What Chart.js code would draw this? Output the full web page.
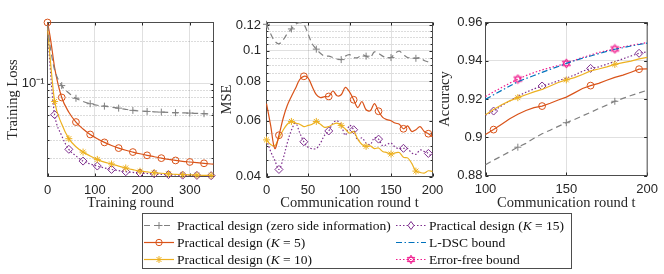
<!DOCTYPE html>
<html>
<head>
<meta charset="utf-8">
<script src="https://cdn.jsdelivr.net/npm/chart.js@4.4.1/dist/chart.umd.min.js"></script>
<style>
html, body { margin: 0; padding: 0; background: #fff; }
#wrap { position: relative; width: 664px; height: 274px; overflow: hidden; }
#wrap canvas { position: absolute; top: 0; }
#legend { position: absolute; left: 141.5px; top: 213px; width: 430px; height: 56px; border: 1px solid #4d4d4d;
  box-sizing: border-box; font-family: "Liberation Serif", serif; font-size: 13.5px; color: #111; }
.item { position: absolute; height: 17px; line-height: 17px; white-space: nowrap; }
.item svg { position: absolute; left: 0; top: 3px; }
.item span { position: absolute; left: 34px; top: 0; }
</style>
</head>
<body>
<div id="wrap">
  <canvas id="loss" width="240" height="215" style="left:0px"></canvas>
  <canvas id="mse" width="245" height="215" style="left:215px"></canvas>
  <canvas id="acc" width="229" height="215" style="left:435px"></canvas>
  <div id="legend"></div>
</div>
<script>
// ---- training loss (left panel) ----
const lossRounds = [0, 5, 10, 15, 30, 45, 60, 75, 90, 105, 120, 135, 150, 165, 180, 195, 210, 225, 240, 255, 270, 285, 300, 315, 330, 345, 350];
const lossZeroSI = [0.26, 0.19, 0.15, 0.125, 0.097, 0.086, 0.079, 0.075, 0.0723, 0.0705, 0.0695, 0.0683, 0.0673, 0.066, 0.0649, 0.0643, 0.0638, 0.0634, 0.0631, 0.0628, 0.0625, 0.0623, 0.0621, 0.0618, 0.0615, 0.0613, 0.0612];
const lossK5 = [0.27, 0.22, 0.17, 0.13, 0.08, 0.063, 0.0537, 0.048, 0.0439, 0.041, 0.0386, 0.0367, 0.0352, 0.034, 0.033, 0.0321, 0.0313, 0.0306, 0.0299, 0.0293, 0.0288, 0.0284, 0.0281, 0.0278, 0.0275, 0.0272, 0.0271];
const lossK10 = [0.25, 0.16, 0.105, 0.075, 0.052, 0.041, 0.036, 0.033, 0.031, 0.0293, 0.028, 0.0272, 0.0263, 0.0255, 0.0248, 0.0242, 0.0239, 0.0236, 0.0234, 0.0232, 0.023, 0.0229, 0.0228, 0.0227, 0.0226, 0.0226, 0.0225];
const lossK15 = [0.24, 0.14, 0.085, 0.0605, 0.043, 0.0345, 0.031, 0.0285, 0.0272, 0.0263, 0.0255, 0.0249, 0.0244, 0.024, 0.0237, 0.0235, 0.0233, 0.0232, 0.023, 0.0229, 0.0228, 0.0227, 0.0226, 0.0226, 0.0225, 0.0225, 0.0224];
const lossMarksA = [0, 30, 60, 90, 120, 150, 180, 210, 240, 270, 300, 330];
const lossMarksB = [15, 45, 75, 105, 135, 165, 195, 225, 255, 285, 315, 345];

// ---- MSE (middle panel) ----
const commRounds = [0, 5, 10, 15, 20, 25, 30, 35, 40, 45, 50, 55, 60, 65, 70, 75, 80, 85, 90, 95, 100, 105, 110, 115, 120, 125, 130, 135, 140, 145, 150, 155, 160, 165, 170, 175, 180, 185, 190, 195, 200];
const mseZeroSI = [0.121, 0.113, 0.107, 0.105, 0.108, 0.113, 0.117, 0.121, 0.1225, 0.121, 0.113, 0.105, 0.101, 0.098, 0.096, 0.096, 0.095, 0.094, 0.0936, 0.096, 0.097, 0.095, 0.095, 0.097, 0.096, 0.095, 0.099, 0.098, 0.096, 0.095, 0.095, 0.098, 0.0995, 0.097, 0.095, 0.095, 0.0945, 0.095, 0.093, 0.092, 0.091];
const mseK5 = [0.068, 0.058, 0.049, 0.054, 0.061, 0.067, 0.0716, 0.076, 0.081, 0.0829, 0.082, 0.077, 0.0725, 0.071, 0.0715, 0.0716, 0.0745, 0.072, 0.0725, 0.0765, 0.074, 0.0699, 0.066, 0.069, 0.065, 0.0645, 0.068, 0.0643, 0.0615, 0.0605, 0.06, 0.059, 0.0585, 0.0566, 0.0578, 0.0555, 0.0562, 0.0575, 0.0555, 0.0546, 0.0534];
const mseK10 = [0.0522, 0.0505, 0.05, 0.053, 0.056, 0.0585, 0.0597, 0.059, 0.0585, 0.0575, 0.058, 0.0585, 0.0597, 0.0585, 0.0572, 0.0575, 0.0585, 0.059, 0.058, 0.0565, 0.0548, 0.0555, 0.0525, 0.0505, 0.0498, 0.05, 0.049, 0.0492, 0.048, 0.0476, 0.0471, 0.0475, 0.0476, 0.046, 0.0458, 0.044, 0.0416, 0.0412, 0.041, 0.0417, 0.0415];
const mseK15 = [0.0522, 0.048, 0.045, 0.0421, 0.0455, 0.051, 0.056, 0.059, 0.055, 0.0515, 0.0495, 0.049, 0.049, 0.051, 0.054, 0.0557, 0.059, 0.06, 0.058, 0.054, 0.058, 0.0562, 0.052, 0.053, 0.051, 0.0505, 0.053, 0.0525, 0.05, 0.0505, 0.051, 0.0495, 0.049, 0.0491, 0.049, 0.0475, 0.047, 0.0485, 0.048, 0.0473, 0.046];
const mseMarksA = [0, 30, 60, 90, 120, 150, 180];
const mseMarksB = [15, 45, 75, 105, 135, 165, 195];

// ---- accuracy (right panel) ----
const accRounds = [100, 105, 110, 115, 120, 125, 130, 135, 140, 145, 150, 155, 160, 165, 170, 175, 180, 185, 190, 195, 200];
const accZeroSI = [0.8856, 0.888, 0.8902, 0.8925, 0.8948, 0.8968, 0.8995, 0.9018, 0.9037, 0.9057, 0.9076, 0.9093, 0.9112, 0.913, 0.915, 0.9168, 0.9188, 0.9203, 0.9218, 0.9232, 0.9246];
const accK5 = [0.9014, 0.904, 0.9068, 0.9097, 0.912, 0.914, 0.9155, 0.9163, 0.9178, 0.9195, 0.921, 0.9232, 0.9255, 0.927, 0.9282, 0.9298, 0.9313, 0.9325, 0.934, 0.9356, 0.9358];
const accK10 = [0.9118, 0.9145, 0.917, 0.919, 0.9207, 0.9222, 0.9237, 0.925, 0.9268, 0.9286, 0.93, 0.9312, 0.9328, 0.9347, 0.9357, 0.9368, 0.9381, 0.939, 0.9398, 0.941, 0.9418];
const accK15 = [0.9115, 0.9137, 0.9165, 0.919, 0.9215, 0.9235, 0.9253, 0.9268, 0.928, 0.9295, 0.931, 0.9325, 0.9345, 0.936, 0.9368, 0.9382, 0.9396, 0.941, 0.9425, 0.9439, 0.9447];
const accLDSC = [0.9198, 0.9222, 0.9245, 0.9268, 0.929, 0.9307, 0.9323, 0.9339, 0.9355, 0.937, 0.9386, 0.94, 0.9413, 0.9425, 0.9437, 0.9449, 0.946, 0.9468, 0.9477, 0.9485, 0.9492];
const accErrFree = [0.9213, 0.9237, 0.926, 0.9283, 0.9304, 0.9322, 0.9338, 0.9352, 0.9364, 0.9375, 0.9386, 0.9402, 0.9417, 0.943, 0.9443, 0.9453, 0.9462, 0.9472, 0.948, 0.9488, 0.9495];
const accMarksA = [120, 150, 180];
const accMarksB = [105, 135, 165, 195];

const legendLabels = ['Practical design (zero side information)', 'Practical design (<i>K</i> = 5)', 'Practical design (<i>K</i> = 10)',
  'Practical design (<i>K</i> = 15)', 'L-DSC bound', 'Error-free bound'];

const GRAY = '#808080', ORANGE = '#D95319', YELLOW = '#EDB120', PURPLE = '#7E2F8E', BLUE = '#0072BD', PINK = '#F0198C';
const TXT = '#262626';

// six-pointed star marker for the error-free bound
const hexagram = document.createElement('canvas');
hexagram.width = 11; hexagram.height = 11;
(function () {
  const g = hexagram.getContext('2d');
  g.strokeStyle = PINK; g.lineWidth = 1;
  [-90, 90].forEach(a0 => {
    g.beginPath();
    for (let k = 0; k < 3; k++) {
      const a = (a0 + k * 120) * Math.PI / 180;
      const px = 5.5 + 4.6 * Math.cos(a), py = 5.5 + 4.6 * Math.sin(a);
      k ? g.lineTo(px, py) : g.moveTo(px, py);
    }
    g.closePath(); g.stroke();
  });
})();

const STY = {
  zero: { color: GRAY, dash: [6, 4], point: 'cross', r: 3.5 },
  k5: { color: ORANGE, dash: [], point: 'circle', r: 3.4 },
  k10: { color: YELLOW, dash: [], point: 'star', r: 3.5 },
  k15: { color: PURPLE, dash: [1.5, 2], point: 'rectRot', r: 4 },
  ldsc: { color: BLUE, dash: [6, 2.5, 1.5, 2.5], point: 'circle', r: 0 },
  free: { color: PINK, dash: [1.5, 2], point: hexagram, r: 4 }
};

function series(xs, ys, marks, st, smooth) {
  return {
    data: xs.map((x, i) => ({ x: x, y: ys[i] })),
    borderColor: st.color,
    borderWidth: 1.2,
    borderDash: st.dash,
    pointStyle: st.point,
    pointBorderColor: st.color,
    pointBackgroundColor: 'rgba(0,0,0,0)',
    pointBorderWidth: 1,
    pointRadius: ctx => (marks.includes(xs[ctx.dataIndex]) ? st.r : 0),
    pointHoverRadius: 0,
    cubicInterpolationMode: smooth === 'mono' ? 'monotone' : 'default',
    tension: smooth === 'wave' ? 0.35 : 0,
    clip: false
  };
}

const framePlugin = {
  id: 'frame',
  beforeDatasetsDraw(chart, args, opts) {
    const { ctx, chartArea: a, scales: { x, y } } = chart;
    const seg = (x1, y1, x2, y2) => { ctx.beginPath(); ctx.moveTo(x1, y1); ctx.lineTo(x2, y2); ctx.stroke(); };
    ctx.save();
    ctx.lineWidth = 1;
    ctx.strokeStyle = 'rgba(0,0,0,0.28)';
    ctx.setLineDash([1, 2]);
    (opts.minorY || []).forEach(v => {
      const py = Math.round(y.getPixelForValue(v)) + 0.5;
      seg(a.left, py, a.right, py);
    });
    ctx.setLineDash([]);
    ctx.strokeStyle = TXT;
    x.ticks.forEach(t => {
      const px = Math.round(x.getPixelForValue(t.value)) + 0.5;
      seg(px, a.bottom, px, a.bottom - 3); seg(px, a.top, px, a.top + 3);
    });
    y.ticks.forEach(t => {
      const py = Math.round(y.getPixelForValue(t.value)) + 0.5;
      seg(a.left, py, a.left + 3, py); seg(a.right, py, a.right - 3, py);
    });
    (opts.minorY || []).forEach(v => {
      const py = Math.round(y.getPixelForValue(v)) + 0.5;
      seg(a.left, py, a.left + 2, py); seg(a.right, py, a.right - 2, py);
    });
    ctx.strokeStyle = '#4d4d4d';
    ctx.strokeRect(a.left, a.top, a.right - a.left, a.bottom - a.top);
    ctx.restore();
  }
};

function makeChart(id, datasets, o) {
  const tickFont = { family: 'Liberation Sans', size: 13 };
  const titleFont = { family: 'Liberation Serif', size: 14.5, lineHeight: 1.2 };
  return new Chart(document.getElementById(id).getContext('2d'), {
    type: 'line',
    data: { datasets: datasets },
    plugins: [framePlugin],
    options: {
      responsive: false, animation: false, events: [], devicePixelRatio: 1,
      layout: { padding: { left: 0, top: o.top, right: o.padRight, bottom: 0 } },
      plugins: { legend: { display: false }, tooltip: { enabled: false }, frame: { minorY: o.minorY } },
      scales: {
        x: {
          type: 'linear', min: o.xMin, max: o.xMax, bounds: 'data',
          afterBuildTicks: s => { s.ticks = o.xTicks.map(v => ({ value: v })); },
          afterFit: s => { s.height = o.xH; },
          grid: { color: 'rgba(0,0,0,0.12)', lineWidth: 1, drawTicks: false },
          border: { display: false },
          ticks: { padding: 6, color: TXT, font: tickFont, maxRotation: 0, autoSkip: false, callback: v => String(v) },
          title: { display: true, text: o.xTitle, color: TXT, font: titleFont, padding: { top: 0, bottom: 3.3 } }
        },
        y: {
          type: o.yType, min: o.yMin, max: o.yMax, bounds: 'data',
          afterBuildTicks: s => { s.ticks = o.yTicks.map(v => ({ value: v })); },
          afterFit: s => { s.width = o.yW; },
          grid: { color: 'rgba(0,0,0,0.12)', lineWidth: 1, drawTicks: false },
          border: { display: false },
          ticks: { padding: o.yPad, color: TXT, font: tickFont, autoSkip: false, callback: o.yFmt },
          title: { display: true, text: o.yTitle, color: TXT, font: titleFont, padding: { top: o.yTitlePad, bottom: 0 } }
        }
      }
    }
  });
}

const fmt = v => String(+Number(v).toFixed(2));

makeChart('loss', [
  series(lossRounds, lossZeroSI, lossMarksA.slice(1), STY.zero, 'mono'),
  series(lossRounds, lossK5, lossMarksA, STY.k5, 'mono'),
  series(lossRounds, lossK10, lossMarksB, STY.k10, 'mono'),
  series(lossRounds, lossK15, lossMarksB, STY.k15, 'mono')
], {
  top: 22.5, padRight: 26.5, xH: 38.5, yW: 47.5, yPad: 3, yTitlePad: 4.3,
  xMin: 0, xMax: 350, xTicks: [0, 100, 200, 300], xTitle: 'Training round',
  yType: 'logarithmic', yMin: 0.0222, yMax: 0.27, yTicks: [0.1], yTitle: 'Training Loss',
  yFmt: v => (Math.abs(v - 0.1) < 1e-9 ? '10\u207B\u00B9' : ''),
  minorY: [0.03, 0.04, 0.05, 0.06, 0.07, 0.08, 0.09, 0.2]
});

makeChart('mse', [
  series(commRounds, mseZeroSI, mseMarksA, STY.zero, 'wave'),
  series(commRounds, mseK5, mseMarksB, STY.k5, 'wave'),
  series(commRounds, mseK10, mseMarksA, STY.k10, 'wave'),
  series(commRounds, mseK15, mseMarksB, STY.k15, 'wave')
], {
  top: 22.5, padRight: 27.5, xH: 38.5, yW: 51.5, yPad: 5.5, yTitlePad: 3.3,
  xMin: 0, xMax: 200, xTicks: [0, 50, 100, 150, 200], xTitle: 'Communication round t',
  yType: 'logarithmic', yMin: 0.04, yMax: 0.1226, yTicks: [0.04, 0.06, 0.08, 0.1, 0.12], yTitle: 'MSE',
  yFmt: fmt,
  minorY: [0.045, 0.05, 0.055, 0.065, 0.07, 0.075, 0.085, 0.09, 0.095, 0.105, 0.11, 0.115]
});

makeChart('acc', [
  series(accRounds, accZeroSI, accMarksA, STY.zero),
  series(accRounds, accK5, accMarksB, STY.k5),
  series(accRounds, accK10, accMarksA, STY.k10),
  series(accRounds, accK15, accMarksB, STY.k15),
  series(accRounds, accLDSC, [], STY.ldsc),
  series(accRounds, accErrFree, accMarksA, STY.free)
], {
  top: 22.5, padRight: 13.5, xH: 39.5, yW: 50.5, yPad: 3, yTitlePad: 1.3,
  xMin: 100, xMax: 200, xTicks: [100, 150, 200], xTitle: 'Communication round t',
  yType: 'linear', yMin: 0.88, yMax: 0.96, yTicks: [0.88, 0.9, 0.92, 0.94, 0.96], yTitle: 'Accuracy',
  yFmt: fmt, minorY: []
});

// ---- legend (HTML) ----
function icon(st, kind) {
  const c = st.color, dash = st.dash.length ? ' stroke-dasharray="' + st.dash.join(',') + '"' : '';
  let m = '';
  if (kind === 'cross') m = '<path d="M16 2v7M12.5 5.5h7" stroke="' + c + '"/>';
  if (kind === 'circle') m = '<circle cx="16" cy="5.5" r="3.2" fill="none" stroke="' + c + '"/>';
  if (kind === 'star') m = '<path d="M16 2v7M12.5 5.5h7M13.5 3l5 5M18.5 3l-5 5" stroke="' + c + '"/>';
  if (kind === 'diamond') m = '<path d="M16 1.5l3 4-3 4-3-4z" fill="#fff" stroke="' + c + '"/>';
  if (kind === 'hex') m = '<path d="M16 1.2l3.7 6.4h-7.4zM16 9.8l3.7-6.4h-7.4z" fill="#fff" stroke="' + c + '"/>';
  return '<svg width="32" height="11"><line x1="1" y1="5.5" x2="31" y2="5.5" stroke="' + c + '" stroke-width="1.2"' + dash + '/>' + m + '</svg>';
}
const legendIcons = [icon(STY.zero, 'cross'), icon(STY.k5, 'circle'), icon(STY.k10, 'star'),
  icon(STY.k15, 'diamond'), icon(STY.ldsc, ''), icon(STY.free, 'hex')];
const rowsTop = [2.5, 19.8, 36.5];
const colsLeft = [0.5, 252.5];
document.getElementById('legend').innerHTML = legendLabels.map((lab, i) =>
  '<div class="item" style="left:' + colsLeft[Math.floor(i / 3)] + 'px;top:' + rowsTop[i % 3] + 'px">' +
  legendIcons[i] + '<span>' + lab + '</span></div>').join('');
</script>
</body>
</html>
